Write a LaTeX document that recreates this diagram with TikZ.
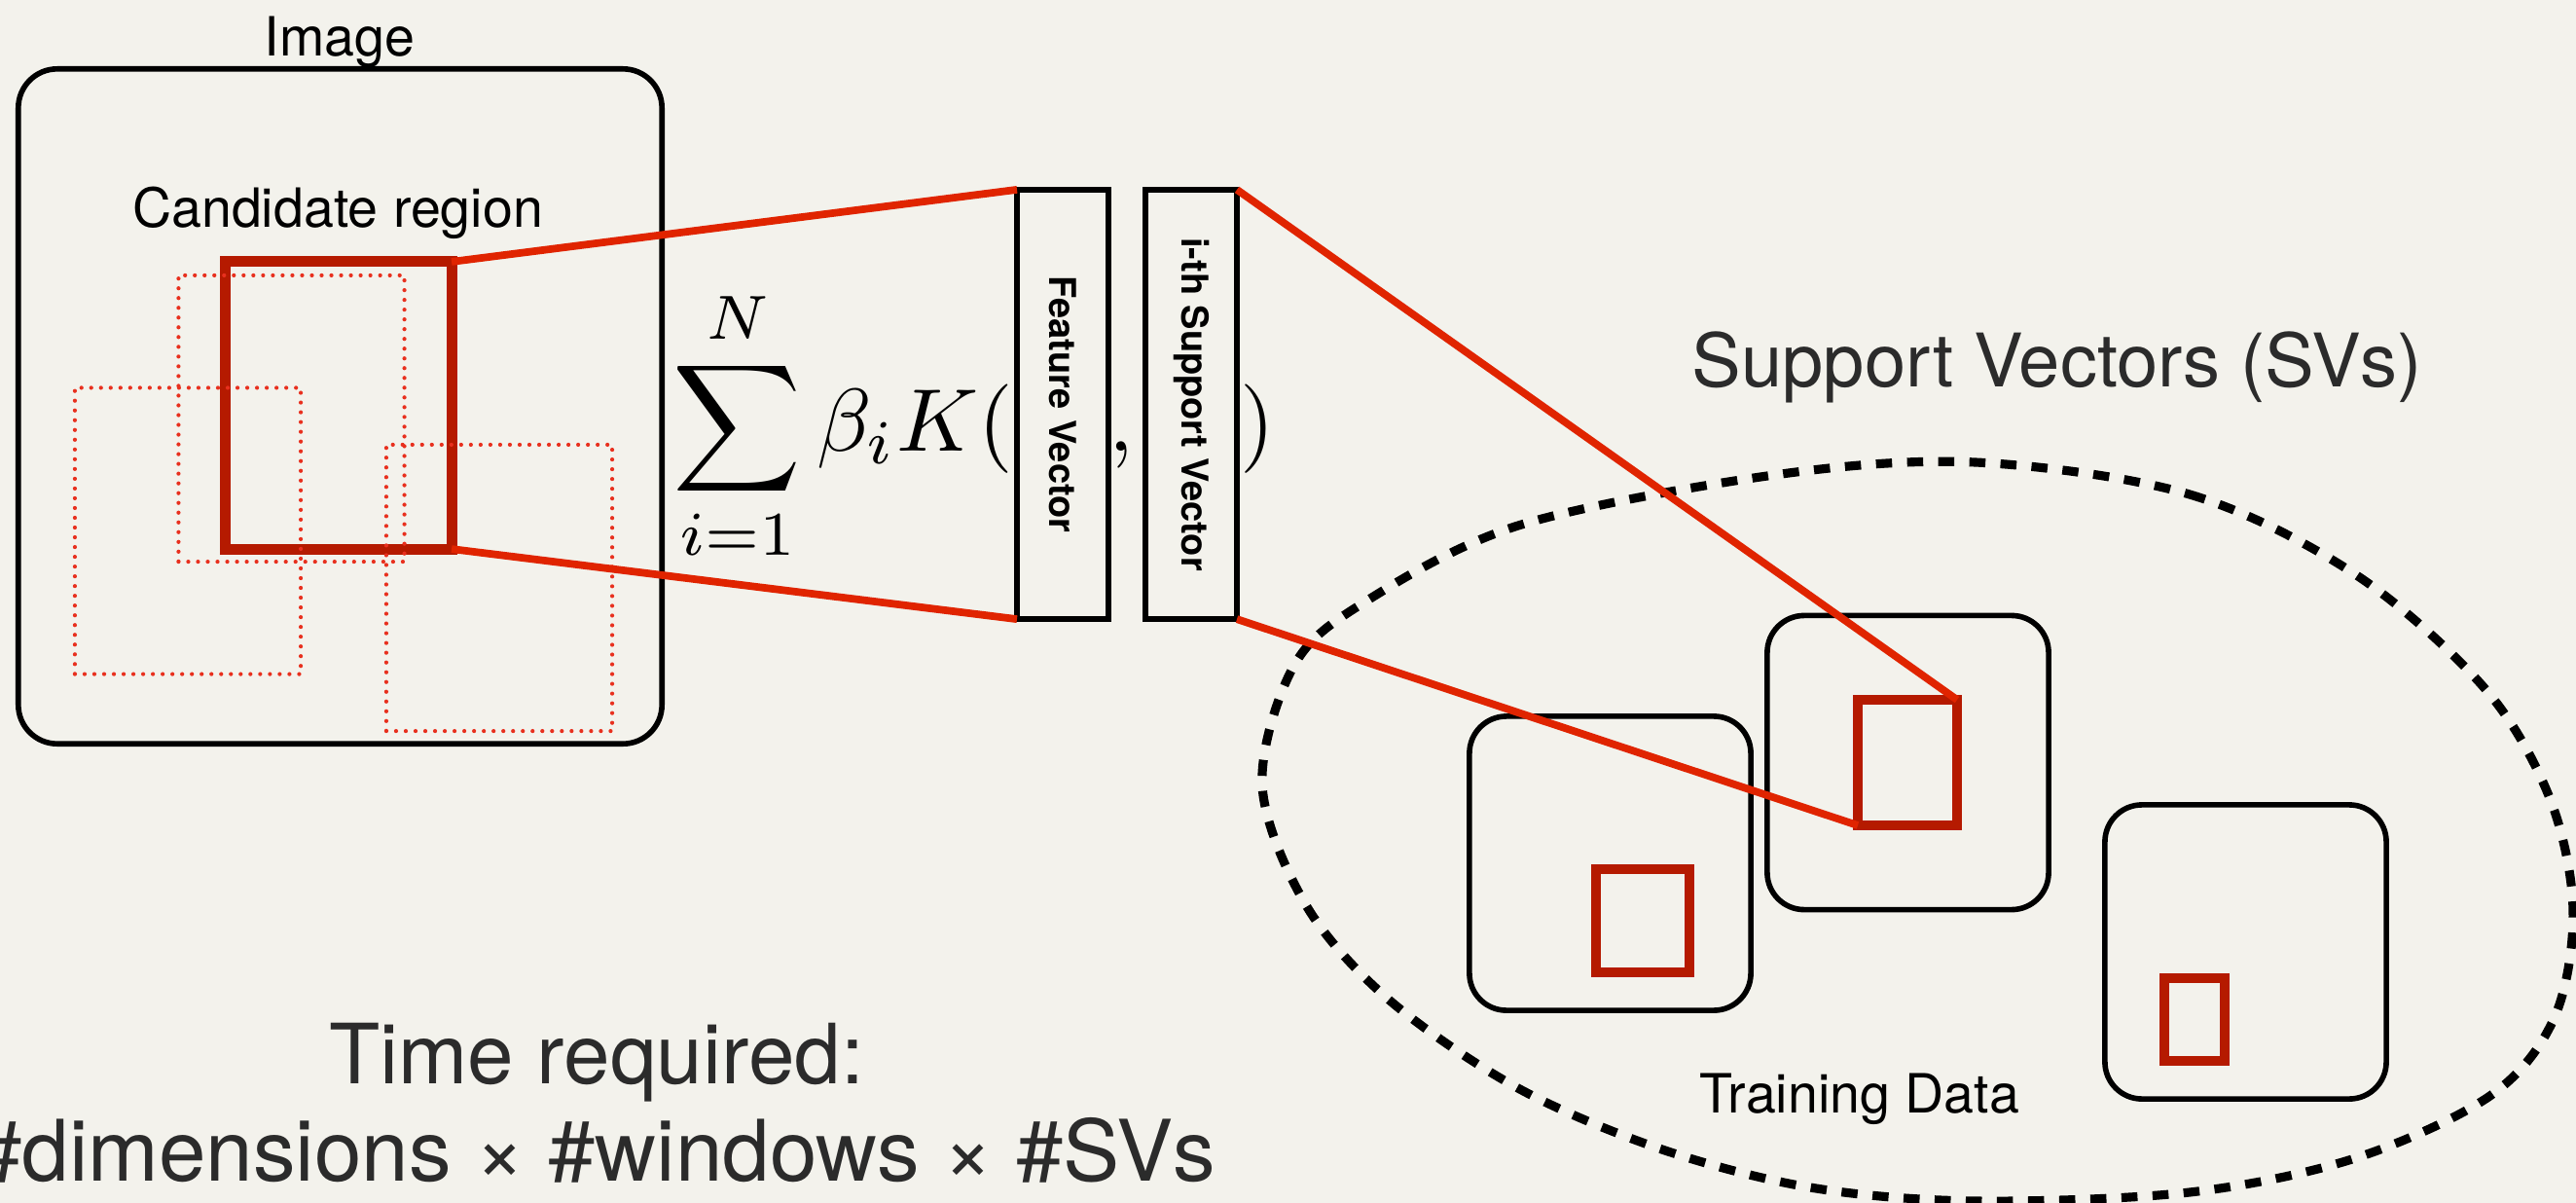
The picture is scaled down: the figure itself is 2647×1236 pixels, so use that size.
\documentclass[tikz,border=0pt]{standalone}
\usepackage[no-math]{fontspec}
\setmainfont{TeX Gyre Heros}
\usetikzlibrary{calc}

\definecolor{paper}{HTML}{F3F2EC}
\definecolor{inkgray}{HTML}{2B2B2B}
\definecolor{winred}{HTML}{B51A00}
\definecolor{linkred}{HTML}{E02400}
\definecolor{dotred}{HTML}{E8301E}

\tikzset{
  imgframe/.style={draw=black, line width=1.6pt, rounded corners=0.4cm, inner sep=0pt, outer sep=0pt},
  trainbox/.style={draw=black, line width=1.6pt, rounded corners=0.38cm, inner sep=0pt, outer sep=0pt,
                   minimum width=2.89cm, minimum height=3.02cm},
  vecbox/.style={draw=black, line width=1.6pt, inner sep=0pt, outer sep=0pt,
                 minimum width=0.94cm, minimum height=4.41cm},
  winbox/.style={draw=winred, line width=3.1pt, inner sep=0pt, outer sep=0pt},
  ghostbox/.style={draw=dotred, line width=1.2pt, dash pattern=on 0pt off 2.85pt, line cap=round,
                   inner sep=0pt, outer sep=0pt, minimum width=2.32cm, minimum height=2.94cm},
  connector/.style={draw=linkred, line width=2.2pt},
  svset/.style={draw=black, line width=2.6pt, dash pattern=on 4.7pt off 4.4pt},
  plaintext/.style={font=\fontsize{15.8}{19}\selectfont, inner sep=0pt, anchor=base},
  bigtext/.style={font=\fontsize{24.3}{29}\selectfont, text=inkgray, inner sep=0pt},
  veclabel/.style={font=\bfseries\fontsize{10.8}{13}\selectfont, inner sep=0pt, rotate=-90},
  mathtext/.style={font=\fontsize{10}{12}\selectfont, inner sep=0pt, scale=2.6},
}

\begin{document}
\begin{tikzpicture}[x=0.01cm, y=-0.01cm]
  \useasboundingbox (0,0) rectangle (2647,1236);
  \clip (0,0) rectangle (2647,1236);
  \fill[paper] (0,0) rectangle (2647,1236);

  % input image with the sliding windows
  \node[imgframe, minimum width=6.61cm, minimum height=6.93cm] (img) at (349.5,417.5) {};
  \node[plaintext] (imgtitle) at (349,57) {Image};
  \node[plaintext] (candtitle) at (347,233) {Candidate region};

  \node[winbox, minimum width=2.32cm, minimum height=2.95cm] (cand) at (348,416.5) {};
  \node[ghostbox] (win1) at (299.5,430) {};
  \node[ghostbox] (win2) at (193,545.5) {};
  \node[ghostbox] (win3) at (513,604) {};

  % kernel expansion
  \node[vecbox] (fv) at (1092,415.5) {};
  \node[vecbox] (sv) at (1224,415.5) {};
  \node[veclabel] (fvtext) at (fv.center) {Feature Vector};
  \node[veclabel] (svtext) at (sv.center) {i-th Support Vector};

  \node[mathtext, anchor=base east] (sum) at (1043,463) {$\displaystyle\sum_{i=1}^{N}\beta_i K($};
  \node[mathtext, anchor=base] (comma) at (1152,463) {$,$};
  \node[mathtext, anchor=base west] (close) at (1273,463) {$)$};

  % set of support vectors
  \node[bigtext, font=\fontsize{21.6}{26}\selectfont, anchor=base] (svtitle) at (2114,397) {Support Vectors (SVs)};
  \draw[svset] plot[smooth cycle, tension=0.55] coordinates {
    (2030,475) (2250,508) (2420,590) (2553,707) (2620,820) (2644,935)
    (2625,1045) (2560,1125) (2420,1190) (2250,1225) (2030,1234)
    (1860,1220) (1705,1180) (1558,1117) (1427,1027) (1342,930) (1297,807)
    (1329,685) (1400,620) (1560,540) (1823,488)
  };

  \node[trainbox] (tA) at (1654.5,887) {};
  \node[trainbox] (tB) at (1960.5,783.5) {};
  \node[trainbox] (tC) at (2307.5,978) {};
  \node[plaintext] (traintitle) at (1911,1143) {Training Data};

  % connectors
  \draw[connector] (cand.north east) -- (fv.north west);
  \draw[connector] (cand.south east) -- (fv.south west);

  \node[winbox, minimum width=1.02cm, minimum height=1.29cm] (rB) at (1960,783.5) {};
  \draw[connector] (sv.north east) -- (rB.north east);
  \draw[connector] (sv.south east) -- (rB.south west);
  \node[winbox, minimum width=0.96cm, minimum height=1.06cm] (rA) at (1688,946) {};
  \node[winbox, minimum width=0.62cm, minimum height=0.85cm] (rC) at (2255,1047.5) {};

  % cost
  \node[bigtext, anchor=base] (cost1) at (613,1113) {Time required:};
  \node[bigtext, font=\fontsize{24.8}{29}\selectfont, anchor=base east] (cost2) at (1250,1213) {\#dimensions × \#windows × \#SVs};
\end{tikzpicture}
\end{document}
